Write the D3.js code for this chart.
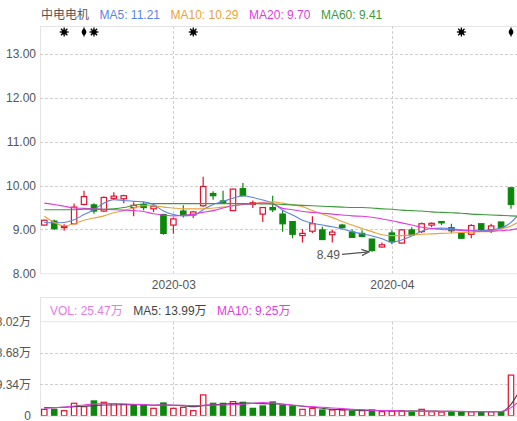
<!DOCTYPE html>
<html>
<head>
<meta charset="utf-8">
<script src="https://cdn.jsdelivr.net/npm/d3@7"></script>
<style>
  body { margin: 0; background: #fff; }
  svg { display: block; font-family: "Liberation Sans", Arial, "Noto Sans CJK SC", sans-serif; }
</style>
</head>
<body>
<svg id="chart" width="517" height="421"></svg>
<script>
// trading days shown (last one is only partly in view)
var dates = ["2020-02-12","2020-02-13","2020-02-14","2020-02-17","2020-02-18","2020-02-19","2020-02-20","2020-02-21",
    "2020-02-24","2020-02-25","2020-02-26","2020-02-27","2020-02-28",
    "2020-03-02","2020-03-03","2020-03-04","2020-03-05","2020-03-06","2020-03-09","2020-03-10","2020-03-11","2020-03-12",
    "2020-03-13","2020-03-16","2020-03-17","2020-03-18","2020-03-19","2020-03-20","2020-03-23","2020-03-24","2020-03-25",
    "2020-03-26","2020-03-27","2020-03-30","2020-03-31",
    "2020-04-01","2020-04-02","2020-04-03","2020-04-07","2020-04-08","2020-04-09","2020-04-10","2020-04-13","2020-04-14",
    "2020-04-15","2020-04-16","2020-04-17","2020-04-20","2020-04-21"];

var open  = [9.10,9.19,9.05,9.13,9.57,9.56,9.42,9.71,9.70,9.50,9.57,9.47,9.34,9.10,9.42,9.33,9.54,9.82,9.65,9.43,9.93,9.57,
    9.35,9.50,9.35,9.18,8.86,8.96,8.99,8.88,9.10,8.94,8.91,8.78,8.60,8.92,8.69,8.99,8.95,9.10,9.18,9.04,8.91,8.89,9.13,8.99,9.17,9.95,9.60];
var high  = [9.22,9.22,9.12,9.59,9.88,9.60,9.75,9.85,9.79,9.62,9.63,9.57,9.36,9.27,9.55,9.42,10.20,9.87,9.88,9.93,10.06,9.66,
    9.51,9.77,9.44,9.18,9.01,9.30,9.06,8.99,9.13,9.00,8.98,8.79,8.70,8.98,9.00,9.05,9.16,9.16,9.19,9.13,8.94,9.12,9.14,9.13,9.17,9.96,10.53];
var low   = [9.09,8.99,8.97,9.12,9.55,9.36,9.40,9.67,9.60,9.30,9.44,9.40,8.88,8.90,9.27,9.26,9.52,9.68,9.58,9.42,9.75,9.49,
    9.17,9.40,8.95,8.80,8.70,8.92,8.76,8.70,9.02,8.82,8.82,8.49,8.59,8.66,8.68,8.86,8.92,9.05,9.10,8.92,8.79,8.80,8.96,8.92,9.02,9.47,9.55];
var close = [9.21,9.02,9.07,9.51,9.75,9.42,9.73,9.76,9.77,9.55,9.50,9.53,8.91,9.24,9.34,9.40,9.98,9.77,9.60,9.92,9.77,9.61,
    9.50,9.45,9.13,8.89,8.91,9.13,8.77,8.94,9.04,8.82,8.84,8.52,8.65,8.72,8.99,8.87,9.13,9.14,9.15,8.97,8.80,9.09,9.00,9.08,9.04,9.57,10.53];
// volume, 万
var volume = [1.9,1.9,1.5,3.7,2.7,4.4,4.0,3.6,3.4,3.2,3.2,2.2,3.8,2.2,2.5,1.5,6.2,3.7,3.7,4.2,4.0,2.2,
    2.9,4.1,3.0,2.7,1.9,2.2,1.7,1.7,1.7,1.4,1.5,1.7,1.2,1.4,1.4,1.3,1.9,1.2,1.1,1.2,1.1,1.2,1.1,1.2,1.2,12.1,25.47];

// moving averages
var ma5  = [9.16,9.15,9.16,9.22,9.34,9.45,9.60,9.68,9.66,9.64,9.63,9.57,9.42,9.34,9.31,9.32,9.45,9.57,9.64,9.71,9.77,9.73,
    9.67,9.60,9.44,9.33,9.21,9.14,9.10,9.06,9.01,8.95,8.90,8.85,8.79,8.71,8.76,8.85,8.96,9.02,9.03,9.02,8.99,8.98,8.97,8.99,9.03,9.16,9.40];
var ma10 = [9.30,9.16,9.08,9.13,9.21,9.26,9.31,9.38,9.43,9.49,9.54,9.54,9.51,9.49,9.47,9.47,9.47,9.49,9.51,9.54,9.57,9.59,
    9.62,9.63,9.60,9.56,9.52,9.43,9.35,9.27,9.18,9.10,9.02,8.95,8.88,8.86,8.86,8.87,8.89,8.90,8.91,8.92,8.93,8.94,8.95,8.95,9.01,9.08,9.20];
var ma20 = [9.60,9.57,9.53,9.49,9.48,9.47,9.46,9.45,9.44,9.43,9.41,9.36,9.33,9.31,9.32,9.35,9.39,9.43,9.49,9.54,9.57,9.59,
    9.60,9.58,9.48,9.45,9.41,9.39,9.37,9.35,9.33,9.31,9.30,9.28,9.24,9.20,9.15,9.10,9.05,9.02,9.00,8.99,8.98,8.97,8.96,8.96,8.97,8.99,9.04];
var ma60 = [9.45,9.45,9.45,9.45,9.46,9.46,9.46,9.47,9.50,9.55,9.58,9.59,9.59,9.59,9.59,9.59,9.59,9.59,9.59,9.59,9.59,9.59,
    9.58,9.58,9.57,9.56,9.55,9.54,9.53,9.52,9.51,9.50,9.50,9.49,9.47,9.46,9.44,9.43,9.42,9.40,9.39,9.38,9.37,9.35,9.34,9.33,9.32,9.31,9.30];
var volMa5  = [2.4,2.4,2.5,2.7,2.8,3.0,3.2,3.2,3.3,3.3,3.3,3.1,3.2,3.1,3.0,2.7,3.0,3.2,3.4,3.6,3.8,3.7,
    3.6,3.5,3.4,3.1,2.8,2.5,2.2,1.9,1.8,1.7,1.6,1.6,1.5,1.4,1.4,1.4,1.4,1.4,1.3,1.3,1.2,1.2,1.2,1.2,1.2,3.4,8.2];
var volMa10 = [2.2,2.4,2.6,2.9,3.2,3.5,3.6,3.6,3.5,3.4,3.3,3.2,3.2,3.1,3.1,3.0,3.1,3.2,3.2,3.3,3.4,3.7,
    3.9,3.8,3.5,3.2,2.9,2.7,2.5,2.3,2.1,1.9,1.8,1.6,1.5,1.5,1.4,1.3,1.3,1.3,1.3,1.3,1.3,1.2,1.2,1.2,1.2,2.4,4.9];

var stockName = "中电电机";
var maNames = ["MA5", "MA10", "MA20", "MA60"];
var maLegend = ["11.21", "10.29", "9.70", "9.41"];
var volNames = ["VOL", "MA5", "MA10"];
var volLegend = ["25.47万", "13.99万", "9.25万"];
var priceTicks = [8, 9, 10, 11, 12, 13];
var volTicks = [0, 9.34, 18.68, 28.02];
var monthTicks = ["2020-03-02", "2020-04-01"];
var monthLabels = ["2020-03", "2020-04"];
var flagDates = ["2020-02-14", "2020-02-18", "2020-02-19", "2020-03-04", "2020-04-13", "2020-04-20"];
var flagKinds = ["star", "bar", "star", "star", "star", "bar"];

var RED = "#e3112d", GREEN = "#0c870c", GRID = "#cfcfcf", BORDER = "#e4e4e4", TXT = "#555";
var maColors = ["#5b84e4", "#e8a33c", "#e03be0", "#3d9a3d"];
var volColors = ["#e67ae6", "#444", "#e03be0"];

var svg = d3.select("#chart"),
    W = +svg.attr("width"),
    left = 40,
    pTop = 26, pBot = 273.3,
    vTop = 321.7, vBot = 415.7;

var data = dates.map(function(d, i) {
    return {date: d, o: open[i], h: high[i], l: low[i], c: close[i], v: volume[i],
        up: i === 0 ? close[i] >= open[i] : close[i] >= close[i - 1]};
});

var x = d3.scalePoint()
    .domain(dates)
    .range([44.3, 44.3 + 9.93 * (dates.length - 1)]);
var bw = 6.4;

var y = d3.scaleLinear().domain([8, 13.64]).range([pBot, pTop]);
var yv = d3.scaleLinear().domain([0, 28.02]).range([vBot, vTop]);

var defs = svg.append("defs");
defs.append("clipPath").attr("id", "clipP").append("rect")
    .attr("x", left).attr("y", pTop).attr("width", W - left).attr("height", pBot - pTop);
defs.append("clipPath").attr("id", "clipV").append("rect")
    .attr("x", left).attr("y", vTop).attr("width", W - left).attr("height", vBot - vTop);

// frames
svg.append("rect")
    .attr("x", left + 0.5).attr("y", pTop + 0.5)
    .attr("width", W).attr("height", pBot - pTop)
    .attr("fill", "none").attr("stroke", BORDER);
svg.append("path")
    .attr("d", "M" + W + ",297.5H" + (left + 0.5) + "V" + (vBot + 0.5) + "H" + W + "M" + (left + 0.5) + "," + (vTop) + "H" + W)
    .attr("fill", "none").attr("stroke", BORDER);

// horizontal grid
svg.append("g").selectAll("line")
    .data(priceTicks.filter(function(t) { return t > 8; }))
    .enter().append("line")
    .attr("x1", left).attr("x2", W)
    .attr("y1", function(d) { return Math.round(y(d)) + 0.5; })
    .attr("y2", function(d) { return Math.round(y(d)) + 0.5; })
    .attr("stroke", GRID).attr("stroke-dasharray", "3,2");
svg.append("g").selectAll("line")
    .data(volTicks.slice(1, 3))
    .enter().append("line")
    .attr("x1", left).attr("x2", W)
    .attr("y1", function(d) { return Math.round(yv(d)) + 0.5; })
    .attr("y2", function(d) { return Math.round(yv(d)) + 0.5; })
    .attr("stroke", GRID).attr("stroke-dasharray", "3,2");

// vertical grid at month starts
var vg = svg.append("g");
monthTicks.forEach(function(m) {
    var xx = Math.round(x(m)) + 0.5;
    vg.append("line").attr("x1", xx).attr("x2", xx).attr("y1", pTop).attr("y2", pBot)
        .attr("stroke", GRID).attr("stroke-dasharray", "3,2");
    vg.append("line").attr("x1", xx).attr("x2", xx).attr("y1", vTop).attr("y2", vBot)
        .attr("stroke", GRID).attr("stroke-dasharray", "3,2");
});

// axes
var ay = svg.append("g")
    .attr("transform", "translate(" + left + ",0)")
    .call(d3.axisLeft(y).tickValues(priceTicks).tickFormat(d3.format(".2f")).tickSize(0).tickPadding(4));
var avy = svg.append("g")
    .attr("transform", "translate(" + left + ",0)")
    .call(d3.axisLeft(yv).tickValues(volTicks)
        .tickFormat(function(d) { return d === 0 ? "0" : d3.format(".2f")(d) + "万"; })
        .tickSize(0).tickPadding(9));
var ax = svg.append("g")
    .attr("transform", "translate(0," + pBot + ")")
    .call(d3.axisBottom(x).tickValues(monthTicks)
        .tickFormat(function(d, i) { return monthLabels[i]; })
        .tickSize(0).tickPadding(7));
[ay, avy, ax].forEach(function(a) {
    a.select(".domain").remove();
    a.selectAll("text").attr("fill", TXT).style("font-size", "12px")
        .style("font-family", "\"Liberation Sans\", Arial, \"Noto Sans CJK SC\", sans-serif");
});

// candles
var cg = svg.append("g").attr("clip-path", "url(#clipP)");
var candle = cg.selectAll("g.candle")
    .data(data)
    .enter().append("g")
    .attr("class", "candle");
candle.each(function(d) {
    var g = d3.select(this),
        cx = x(d.date),
        rise = d.c >= d.o,
        col = rise ? RED : GREEN,
        top = y(Math.max(d.o, d.c)),
        bot = y(Math.min(d.o, d.c));
    g.append("line").attr("x1", cx).attr("x2", cx).attr("y1", y(d.h)).attr("y2", top)
        .attr("stroke", col).attr("stroke-width", 1.2);
    g.append("line").attr("x1", cx).attr("x2", cx).attr("y1", bot).attr("y2", y(d.l))
        .attr("stroke", col).attr("stroke-width", 1.2);
    g.append("rect")
        .attr("x", cx - bw / 2 + 0.5).attr("y", top)
        .attr("width", bw - 1).attr("height", Math.max(bot - top, 1.2))
        .attr("fill", rise ? "#fff" : GREEN)
        .attr("stroke", col).attr("stroke-width", 1.2);
});

// moving average lines
var maSeries = [ma5, ma10, ma20, ma60];
maSeries.forEach(function(s, k) {
    cg.append("path")
        .datum(s)
        .attr("fill", "none")
        .attr("stroke", maColors[k])
        .attr("stroke-width", 1.1)
        .attr("d", d3.line()
            .x(function(d, i) { return x(dates[i]); })
            .y(function(d) { return y(d); })
            .curve(d3.curveMonotoneX));
});

// lowest point note
var minLow = d3.min(low.slice(0, 48)),
    minIdx = low.indexOf(minLow),
    mx = x(dates[minIdx]) - 3,
    my = y(minLow);
defs.append("marker").attr("id", "arr")
    .attr("viewBox", "0 0 8 8").attr("refX", 7).attr("refY", 4)
    .attr("markerWidth", 7).attr("markerHeight", 7).attr("orient", "auto")
    .append("path").attr("d", "M0,1L7,4L0,7").attr("fill", "none").attr("stroke", TXT).attr("stroke-width", 1.2);
svg.append("line")
    .attr("x1", mx - 27).attr("y1", my + 2.5)
    .attr("x2", mx).attr("y2", my)
    .attr("stroke", TXT).attr("stroke-width", 1.2)
    .attr("marker-end", "url(#arr)");
svg.append("text")
    .attr("x", mx - 29).attr("y", my + 7.5)
    .attr("text-anchor", "end")
    .attr("fill", TXT).style("font-size", "12px")
    .text(d3.format(".2f")(minLow));

// event flags along the top
var fg = svg.append("g");
flagDates.forEach(function(fd, i) {
    var g = fg.append("g").attr("transform", "translate(" + x(fd) + ",32)");
    if (flagKinds[i] === "star") {
        [0, 45, 90, 135].forEach(function(a) {
            g.append("line").attr("x1", -4.5).attr("x2", 4.5)
                .attr("transform", "rotate(" + a + ")")
                .attr("stroke", "#000").attr("stroke-width", 1.3);
        });
        g.append("circle").attr("r", 2.6).attr("fill", "#000");
    } else {
        g.append("line").attr("y1", -4.5).attr("y2", 4.5).attr("stroke", "#000").attr("stroke-width", 1.3);
        g.append("ellipse").attr("rx", 2.2).attr("ry", 3).attr("fill", "#000");
        g.append("line").attr("x1", -2.2).attr("x2", 2.2).attr("stroke", "#000").attr("stroke-width", 1.3);
    }
});

// volume bars
var vgBars = svg.append("g").attr("clip-path", "url(#clipV)");
vgBars.selectAll("rect")
    .data(data)
    .enter().append("rect")
    .attr("x", function(d) { return x(d.date) - bw / 2 + 0.5; })
    .attr("y", function(d) { return yv(d.v); })
    .attr("width", bw - 1)
    .attr("height", function(d) { return vBot - yv(d.v); })
    .attr("fill", function(d) { return d.up ? "#fff" : GREEN; })
    .attr("stroke", function(d) { return d.up ? RED : GREEN; })
    .attr("stroke-width", 1.2);

[volMa5, volMa10].forEach(function(s, k) {
    vgBars.append("path")
        .datum(s)
        .attr("fill", "none")
        .attr("stroke", volColors[k + 1])
        .attr("stroke-width", 1.1)
        .attr("d", d3.line()
            .x(function(d, i) { return x(dates[i]); })
            .y(function(d) { return yv(d); })
            .curve(d3.curveMonotoneX));
});

// legends
function legend(items, colors, x0, yy) {
    var cx = x0;
    items.forEach(function(t, i) {
        var el = svg.append("text")
            .attr("x", cx).attr("y", yy)
            .attr("fill", colors[i])
            .style("font-size", "12px")
            .text(t);
        cx += el.node().getComputedTextLength() + 10.5;
    });
}
legend([stockName].concat(maNames.map(function(n, i) { return n + ": " + maLegend[i]; })),
    [TXT].concat(maColors), 41, 18.5);
legend(volNames.map(function(n, i) { return n + ": " + volLegend[i]; }), volColors, 50, 314.5);
</script>
</body>
</html>
